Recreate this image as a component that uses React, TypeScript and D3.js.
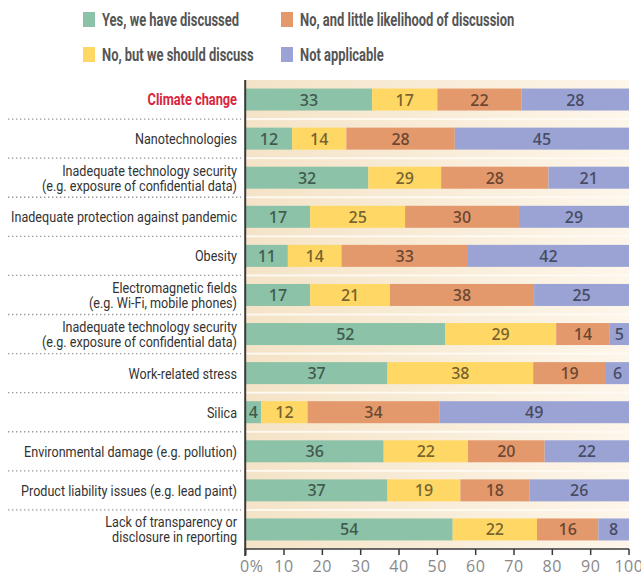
import React from "react";
import * as d3 from "d3";

const categories = [
  "Climate change",
  "Nanotechnologies",
  "Inadequate technology security\n(e.g. exposure of confidential data)",
  "Inadequate protection against pandemic",
  "Obesity",
  "Electromagnetic fields\n(e.g. Wi-Fi, mobile phones)",
  "Inadequate technology security\n(e.g. exposure of confidential data)",
  "Work-related stress",
  "Silica",
  "Environmental damage (e.g. pollution)",
  "Product liability issues (e.g. lead paint)",
  "Lack of transparency or\ndisclosure in reporting",
];

const seriesNames = [
  "Yes, we have discussed",
  "No, but we should discuss",
  "No, and little likelihood of discussion",
  "Not applicable",
];

const yesDiscussed = [33, 12, 32, 17, 11, 17, 52, 37, 4, 36, 37, 54];
const shouldDiscuss = [17, 14, 19, 25, 14, 21, 29, 38, 12, 22, 19, 22];
const littleLikelihood = [22, 28, 28, 30, 33, 38, 14, 19, 34, 20, 18, 16];
const notApplicable = [28, 45, 21, 29, 42, 25, 5, 6, 49, 22, 26, 8];

// Printed label differs from the drawn bar length in the original graphic
const printedOverrides: { row: number; series: number; text: string }[] = [
  { row: 2, series: 1, text: "29" },
];

const xTicks = [0, 10, 20, 30, 40, 50, 60, 70, 80, 90, 100];
const highlighted = "Climate change";

const colors = ["#8cc2a7", "#ffd764", "#e4996c", "#9aa3d4"];

const W = 641;
const H = 575;
const plotLeft = 245.7;
const plotRight = 629;
const plotTop = 80;
const plotBottom = 549;
const barH = 22;

const labelFont = "Roboto, 'Liberation Sans', sans-serif";
const numFont = "'Open Sans', 'Noto Sans', sans-serif";
const labelScale = 0.84;
const legendScale = 0.7;

export default function App() {
  const x = d3.scaleLinear().domain([0, 100]).range([plotLeft, plotRight]);
  const rows = categories.map((_, i) => i);
  const y = d3.scaleBand<number>().domain(rows).range([plotTop, plotBottom]).paddingInner(0).paddingOuter(0);
  const bw = y.bandwidth();

  const table = rows.map((i) => ({
    i,
    vals: [yesDiscussed[i], shouldDiscuss[i], littleLikelihood[i], notApplicable[i]],
  }));

  const segs: { row: number; s: number; x0: number; x1: number; label: string }[] = [];
  table.forEach((r) => {
    const total = d3.sum(r.vals);
    let cum = 0;
    r.vals.forEach((v, s) => {
      const x0 = (cum / total) * 100;
      cum += v;
      const x1 = (cum / total) * 100;
      const ov = printedOverrides.find((o) => o.row === r.i && o.series === s);
      segs.push({ row: r.i, s, x0, x1, label: ov ? ov.text : String(v) });
    });
  });

  const legendPos = [
    { x: 83, y: 12 },
    { x: 83, y: 47 },
    { x: 281, y: 12 },
    { x: 281, y: 47 },
  ];

  return (
    <svg width={W} height={H} style={{ position: "absolute", left: 0, top: 0, background: "#fff" }}>
      <defs>
        <linearGradient id="bg" x1="0" x2="1" y1="0" y2="0">
          <stop offset="0" stopColor="#f4e3c7" />
          <stop offset="1" stopColor="#fdf6ea" />
        </linearGradient>
      </defs>

      {/* legend */}
      {seriesNames.map((n, k) => (
        <g key={n}>
          <rect x={legendPos[k].x} y={legendPos[k].y} width={12} height={15} fill={colors[k]} />
          <g transform={`translate(${legendPos[k].x + 19},${legendPos[k].y + 14}) scale(${legendScale},1)`}>
            <text x={0} y={0} fontFamily={labelFont} fontWeight="bold" fontSize={18.5} fill="#555">
              {n}
            </text>
          </g>
        </g>
      ))}

      {/* plot background */}
      <rect x={x(0)} y={plotTop} width={x(100) - x(0)} height={plotBottom - plotTop} fill="url(#bg)" />
      {rows.slice(1).map((i) => (
        <rect key={"w" + i} x={x(0)} y={(y(i) as number) - 1} width={x(100) - x(0)} height={2} fill="#fffbf4" opacity={0.9} />
      ))}

      {/* dotted separators */}
      {rows.slice(1).map((i) => (
        <line
          key={"d" + i}
          x1={8}
          x2={241}
          y1={y(i) as number}
          y2={y(i) as number}
          stroke="#9a9a9a"
          strokeWidth={1.4}
          strokeDasharray="1.4 2.6"
        />
      ))}

      {/* bars */}
      {segs.map((d) => (
        <rect
          key={`b${d.row}-${d.s}`}
          x={x(d.x0)}
          y={(y(d.row) as number) + bw / 2 - barH / 2}
          width={x(d.x1) - x(d.x0)}
          height={barH}
          fill={colors[d.s]}
        />
      ))}
      {segs.map((d) => (
        <text
          key={`t${d.row}-${d.s}`}
          x={(x(d.x0) + x(d.x1)) / 2}
          y={(y(d.row) as number) + bw / 2 + 6}
          textAnchor="middle"
          fontFamily={numFont}
          fontWeight={600}
          fontSize={16}
          fill="#000"
          fillOpacity={0.55}
        >
          {d.label}
        </text>
      ))}

      {/* category labels */}
      {categories.map((c, i) => {
        const lines = c.split("\n");
        const cy = (y(i) as number) + bw / 2;
        const isHi = c === highlighted;
        return (
          <g key={"c" + i} transform={`translate(237,${cy}) scale(${isHi ? 0.8 : labelScale},1)`}>
            <text
              textAnchor="end"
              fontFamily={labelFont}
              fontSize={isHi ? 16 : 15}
              fontWeight={isHi ? "bold" : "normal"}
              fill={isHi ? "#d7263d" : "#333"}
            >
              {lines.map((l, j) => (
                <tspan key={j} x={0} y={5.5 + (j - (lines.length - 1) / 2) * 15}>
                  {l}
                </tspan>
              ))}
            </text>
          </g>
        );
      })}

      {/* axes */}
      <line x1={x(0) - 0.5} x2={x(0) - 0.5} y1={plotTop} y2={plotBottom + 7} stroke="#3a3a3a" strokeWidth={2} />
      <line x1={x(0) - 1.5} x2={x(100)} y1={plotBottom} y2={plotBottom} stroke="#3a3a3a" strokeWidth={1.5} />
      {xTicks.map((t) => (
        <g key={"x" + t}>
          <line x1={x(t)} x2={x(t)} y1={plotBottom} y2={plotBottom + 6} stroke="#3a3a3a" strokeWidth={1.5} />
          <text
            x={t === 0 ? x(t) + 6 : x(t)}
            y={572}
            textAnchor="middle"
            fontFamily={numFont}
            fontSize={16}
            fill="#888"
            letterSpacing={0.6}
          >
            {t === 0 ? "0%" : String(t)}
          </text>
        </g>
      ))}
    </svg>
  );
}
